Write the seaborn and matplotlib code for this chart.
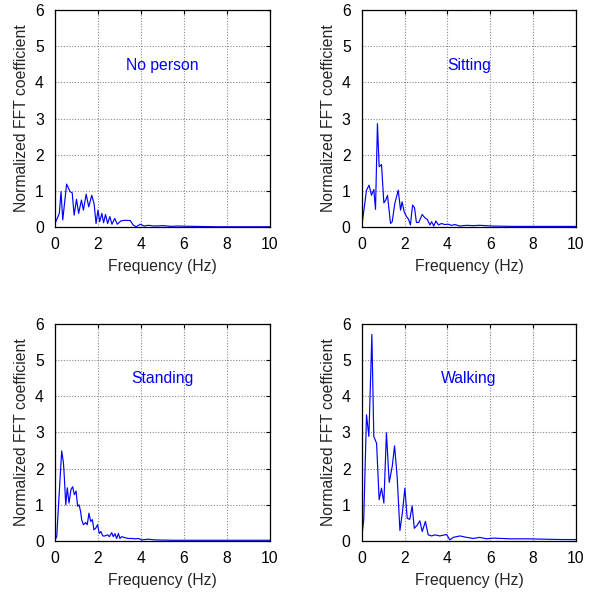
import numpy as np
import pandas as pd
import matplotlib
matplotlib.use("Agg")
import matplotlib.pyplot as plt
import seaborn as sns

### Dados (frequência em Hz, coeficiente FFT normalizado)
freq_nenhum = [0.0, 0.2, 0.28, 0.36, 0.54, 0.7, 0.8, 0.89, 1.0, 1.1, 1.23, 1.32, 1.45, 1.57, 1.71,
               1.82, 1.91, 2.0, 2.08, 2.18, 2.26, 2.35, 2.45, 2.55, 2.65, 2.78, 2.9, 3.06, 3.27,
               3.5, 3.65, 3.78, 3.97, 4.15, 4.35, 4.6, 5.05, 5.4, 5.68, 6.5, 7.5, 8.5, 10.0]
val_nenhum = [0.1, 0.38, 0.98, 0.2, 1.19, 0.98, 0.95, 0.33, 0.77, 0.38, 0.75, 0.47, 0.91, 0.56, 0.88,
              0.64, 0.1, 0.47, 0.15, 0.38, 0.12, 0.35, 0.1, 0.29, 0.08, 0.24, 0.08, 0.17, 0.19,
              0.18, 0.05, 0.01, 0.08, 0.03, 0.05, 0.03, 0.04, 0.02, 0.03, 0.02, 0.01, 0.01, 0.01]

freq_sentado = [0.0, 0.22, 0.34, 0.45, 0.56, 0.64, 0.73, 0.81, 0.92, 1.03, 1.12, 1.2, 1.34, 1.42,
                1.54, 1.7, 1.81, 1.88, 1.98, 2.09, 2.18, 2.27, 2.37, 2.46, 2.55, 2.66, 2.82, 2.94,
                3.06, 3.18, 3.26, 3.36, 3.46, 3.58, 3.72, 3.88, 4.03, 4.19, 4.35, 4.58, 4.9, 5.2,
                5.5, 6.1, 7.0, 8.0, 9.0, 10.0]
val_sentado = [0.03, 1.02, 1.16, 0.88, 1.04, 0.49, 2.86, 1.67, 1.73, 0.67, 0.75, 0.88, 0.1, 0.15,
               0.65, 1.02, 0.47, 0.7, 0.42, 0.29, 0.22, 0.06, 0.61, 0.54, 0.13, 0.13, 0.35, 0.26,
               0.21, 0.06, 0.15, 0.03, 0.17, 0.06, 0.1, 0.07, 0.08, 0.05, 0.07, 0.03, 0.05, 0.04,
               0.05, 0.03, 0.02, 0.02, 0.02, 0.02]

freq_empe = [0.0, 0.08, 0.16, 0.31, 0.39, 0.43, 0.5, 0.57, 0.65, 0.74, 0.82, 0.9, 0.98, 1.05, 1.12,
             1.19, 1.24, 1.32, 1.43, 1.5, 1.58, 1.66, 1.74, 1.81, 1.89, 1.98, 2.06, 2.14, 2.22,
             2.33, 2.45, 2.53, 2.64, 2.71, 2.79, 2.87, 2.95, 3.02, 3.1, 3.26, 3.41, 3.57, 3.72,
             3.88, 4.03, 4.34, 4.65, 5.5, 7.0, 8.5, 10.0]
val_empe = [0.03, 0.12, 0.96, 2.49, 2.17, 1.8, 1.0, 1.47, 1.05, 1.42, 1.5, 1.28, 1.38, 0.96, 1.0,
            0.82, 0.59, 0.45, 0.51, 0.45, 0.77, 0.54, 0.59, 0.31, 0.35, 0.45, 0.21, 0.26, 0.14,
            0.14, 0.17, 0.12, 0.23, 0.12, 0.2, 0.07, 0.21, 0.07, 0.12, 0.09, 0.07, 0.07, 0.06,
            0.07, 0.03, 0.05, 0.03, 0.02, 0.02, 0.02, 0.02]

freq_andando = [0.0, 0.09, 0.22, 0.33, 0.47, 0.56, 0.69, 0.81, 0.92, 1.03, 1.15, 1.28, 1.42, 1.53,
                1.65, 1.78, 1.9, 2.01, 2.12, 2.24, 2.35, 2.45, 2.59, 2.71, 2.82, 2.97, 3.1, 3.26,
                3.41, 3.64, 3.96, 4.11, 4.27, 4.58, 4.89, 5.2, 5.51, 5.82, 6.14, 6.9, 7.7, 8.5,
                9.3, 10.0]
val_andando = [0.12, 0.58, 3.49, 2.89, 5.71, 2.89, 2.7, 1.14, 1.46, 1.05, 2.99, 1.62, 2.06, 2.63,
               1.78, 0.29, 0.81, 1.46, 0.63, 0.6, 0.97, 0.35, 0.44, 0.56, 0.26, 0.54, 0.17, 0.14,
               0.17, 0.14, 0.18, 0.03, 0.1, 0.14, 0.1, 0.07, 0.1, 0.06, 0.08, 0.06, 0.06, 0.05,
               0.04, 0.04]

paineis = [("No person", freq_nenhum, val_nenhum),
           ("Sitting", freq_sentado, val_sentado),
           ("Standing", freq_empe, val_empe),
           ("Walking", freq_andando, val_andando)]

### Estilo
sns.set_style("white")
plt.rcParams["font.family"] = ["Liberation Sans", "DejaVu Sans"]
tam = 11.3

fig = plt.figure(figsize=(6.0, 5.93), dpi=100)
posicoes = [[0.0917, 0.617, 0.358, 0.366],
            [0.603, 0.617, 0.357, 0.366],
            [0.0917, 0.0877, 0.358, 0.366],
            [0.603, 0.0877, 0.357, 0.366]]

for (titulo, fx, fy), pos in zip(paineis, posicoes):
    ax = fig.add_axes(pos)
    df = pd.DataFrame({"f": fx, "c": fy})
    sns.lineplot(data=df, x="f", y="c", ax=ax, color="#0000ff", linewidth=0.85)
    ax.set_xlim(0, 10)
    ax.set_ylim(0, 6)
    ax.set_xticks(range(0, 11, 2))
    ax.set_yticks(range(0, 7))
    ax.grid(True, color="#888888", linestyle=(0, (1, 1.5)), linewidth=0.8)
    ax.tick_params(direction="in", length=3, width=0.8, top=True, right=True,
                   labelsize=tam, colors="black")
    ax.tick_params(axis="x", pad=7)
    ax.tick_params(axis="y", pad=8)
    for s in ax.spines.values():
        s.set_color("black")
        s.set_linewidth(0.9)
    ax.set_xlabel("Frequency (Hz)", fontsize=tam, labelpad=5)
    ax.set_ylabel("Normalized FFT coefficient", fontsize=tam, labelpad=4)
    ax.text(5, 4.48, titulo, color="#0000ff", fontsize=tam, ha="center", va="center")

fig.savefig("out.png", dpi=100)
